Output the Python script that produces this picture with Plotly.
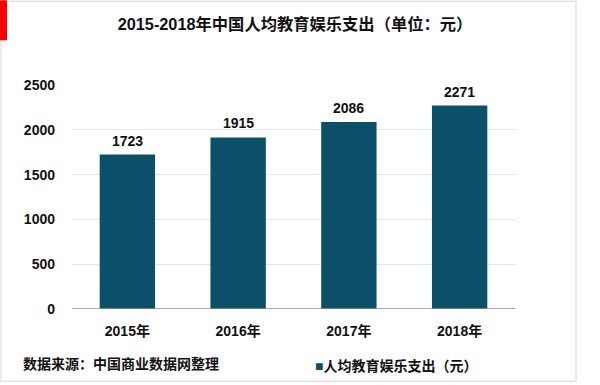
import plotly.graph_objects as go

years = ["2015年", "2016年", "2017年", "2018年"]
spending = [1723, 1915, 2086, 2271]
y_ticks = [0, 500, 1000, 1500, 2000, 2500]

title_text = "2015-2018年中国人均教育娱乐支出（单位：元）"
source_text = "数据来源：中国商业数据网整理"
series_name = "人均教育娱乐支出（元）"

BAR = "#0c4f69"
FONT = "Liberation Sans, Arial, Noto Sans CJK SC, sans-serif"

# pixel geometry of the plot area
L, R, T, B = 72, 515, 84.7, 308.7
W, H = R - L, B - T


def px(x):
    return (x - L) / W


def py(y):
    return (B - y) / H


fig = go.Figure()
fig.add_trace(go.Bar(
    x=years, y=spending, width=0.5,
    marker=dict(color=BAR, line=dict(width=0)),
    showlegend=False, name=series_name,
))

value_labels = [
    dict(x=cat, y=val, text=str(val), xref="x", yref="y", showarrow=False,
         yanchor="bottom", yshift=4,
         font=dict(family=FONT, size=14, color="#111111", weight="bold"))
    for cat, val in zip(years, spending)
]

fig.update_layout(
    width=600, height=385,
    margin=dict(l=L, r=600 - R, t=T, b=385 - B),
    paper_bgcolor="white", plot_bgcolor="white",
    font=dict(family=FONT, color="#111111"),
    title=dict(text=title_text, x=295 / 600, xanchor="center", xref="container",
               y=1 - 24 / 385, yanchor="middle", yref="container",
               font=dict(family=FONT, size=16.3, color="#111111", weight="bold")),
    bargap=0.5,
    xaxis=dict(showgrid=False, showline=False, ticks="",
               tickfont=dict(family=FONT, size=14, color="#111111", weight="bold"),
               ticklabelstandoff=12),
    yaxis=dict(range=[0, 2500], tickvals=y_ticks, showgrid=True, gridcolor="#e6e6e6",
               gridwidth=1, zeroline=False, showline=False, ticks="",
               tickfont=dict(family=FONT, size=14, color="#111111", weight="bold"),
               ticklabelstandoff=16),
    shapes=[
        dict(type="rect", xref="paper", yref="paper",
             x0=px(1), x1=px(576), y0=py(381), y1=py(1),
             line=dict(color="#e4e4e4", width=1.5), fillcolor="rgba(0,0,0,0)", layer="below"),
        dict(type="rect", xref="paper", yref="paper",
             x0=px(0), x1=px(7), y0=py(40), y1=py(0),
             line=dict(width=0), fillcolor="#ff0000"),
        dict(type="line", xref="paper", yref="y",
             x0=0, x1=1, y0=0, y1=0, line=dict(color="#8c8c8c", width=1.5)),
    ],
    annotations=value_labels + [
        dict(text=source_text, xref="paper", yref="paper", x=px(21), y=py(364),
             xanchor="left", yanchor="middle", showarrow=False,
             font=dict(family=FONT, size=14, color="#111111", weight="bold")),
        dict(text=f"<span style='color:{BAR}'>■</span>{series_name}",
             xref="paper", yref="paper", x=px(313), y=py(366),
             xanchor="left", yanchor="middle", showarrow=False,
             font=dict(family=FONT, size=14, color="#111111", weight="bold")),
    ],
)

fig.write_html("out.html", config={"displayModeBar": False},
               post_script="document.body.style.margin='0';document.body.style.overflow='hidden';")
